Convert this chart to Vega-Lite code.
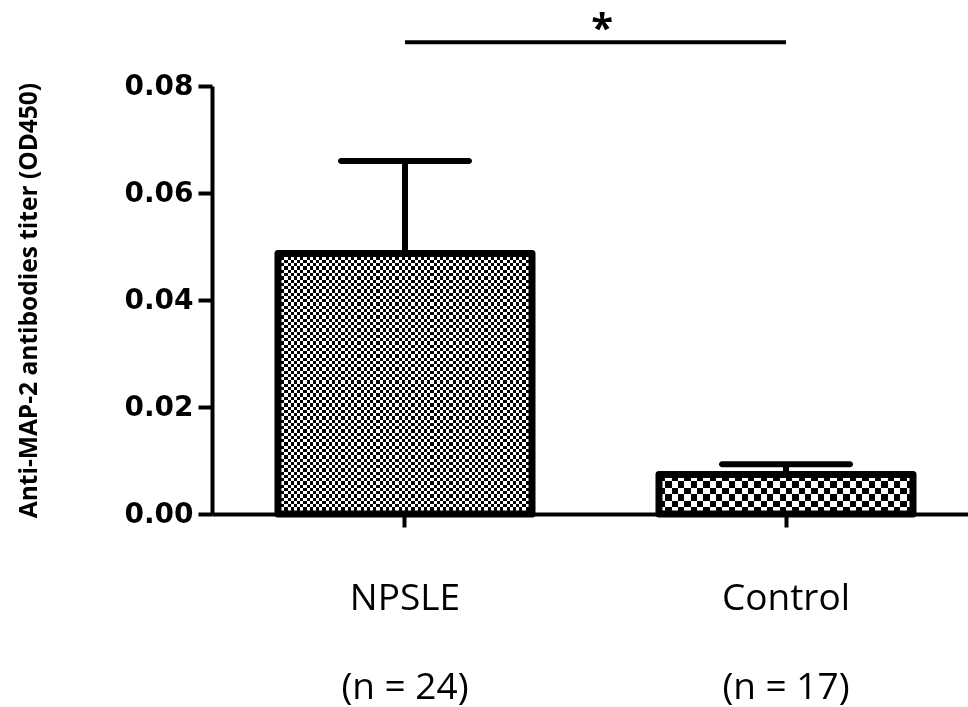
{
  "$schema": "https://vega.github.io/schema/vega-lite/v6.json",
  "autosize": {"type": "none"},
  "padding": {"left": 212, "top": 86, "right": 0, "bottom": 193},
  "width": 767,
  "height": 428,
  "background": "white",
  "config": {"view": {"stroke": null}},
  "data": {"values": [
    {"group": "NPSLE", "n": 24, "mean": 0.0487, "upper": 0.066},
    {"group": "Control", "n": 17, "mean": 0.0074, "upper": 0.0093}
  ]},
  "encoding": {
    "x": {
      "field": "group", "type": "nominal", "sort": ["NPSLE", "Control"],
      "scale": {"domain": ["NPSLE", "Control"], "paddingInner": 0.3333, "paddingOuter": 0.1732},
      "axis": {
        "title": null, "labelAngle": 0, "domainColor": "black", "domainWidth": 4,
        "tickColor": "black", "tickWidth": 4, "tickSize": 13, "labelPadding": 53,
        "labelFont": "Open Sans", "labelFontSize": 37, "labelColor": "black",
        "labelBaseline": "top", "labelLineHeight": 89,
        "labelExpr": "datum.value == 'NPSLE' ? ['NPSLE', '(n = 24)'] : ['Control', '(n = 17)']"
      }
    },
    "y": {
      "field": "mean", "type": "quantitative",
      "scale": {"domain": [0, 0.08], "nice": false},
      "axis": {
        "title": "Anti-MAP-2 antibodies titer (OD450)",
        "values": [0, 0.02, 0.04, 0.06, 0.08], "format": ".2f", "grid": false,
        "domainColor": "black", "domainWidth": 4, "tickColor": "black", "tickWidth": 4,
        "tickSize": 14, "labelPadding": 5, "labelFont": "DejaVu Sans", "labelFontWeight": "bold",
        "labelFontSize": 28, "labelColor": "black", "titleFont": "Open Sans",
        "titleFontWeight": "bold", "titleFontSize": 24.5, "titleColor": "black", "titlePadding": 82
      }
    }
  },
  "layer": [
    {
      "transform": [{"filter": "datum.group == 'NPSLE'"}],
      "mark": {"type": "bar", "fill": {"gradient": "linear", "x1": 0, "y1": 0, "x2": 1, "y2": 0, "stops": [
        {"offset":0,"color":"#000"},{"offset":0.0125,"color":"#000"},{"offset":0.0125,"color":"#fff"},{"offset":0.025,"color":"#fff"},{"offset":0.025,"color":"#000"},{"offset":0.0375,"color":"#000"},{"offset":0.0375,"color":"#fff"},{"offset":0.05,"color":"#fff"},{"offset":0.05,"color":"#000"},{"offset":0.0625,"color":"#000"},{"offset":0.0625,"color":"#fff"},{"offset":0.075,"color":"#fff"},{"offset":0.075,"color":"#000"},{"offset":0.0875,"color":"#000"},{"offset":0.0875,"color":"#fff"},{"offset":0.1,"color":"#fff"},{"offset":0.1,"color":"#000"},{"offset":0.1125,"color":"#000"},{"offset":0.1125,"color":"#fff"},{"offset":0.125,"color":"#fff"},{"offset":0.125,"color":"#000"},{"offset":0.1375,"color":"#000"},{"offset":0.1375,"color":"#fff"},{"offset":0.15,"color":"#fff"},{"offset":0.15,"color":"#000"},{"offset":0.1625,"color":"#000"},{"offset":0.1625,"color":"#fff"},{"offset":0.175,"color":"#fff"},{"offset":0.175,"color":"#000"},{"offset":0.1875,"color":"#000"},{"offset":0.1875,"color":"#fff"},{"offset":0.2,"color":"#fff"},{"offset":0.2,"color":"#000"},{"offset":0.2125,"color":"#000"},{"offset":0.2125,"color":"#fff"},{"offset":0.225,"color":"#fff"},{"offset":0.225,"color":"#000"},{"offset":0.2375,"color":"#000"},{"offset":0.2375,"color":"#fff"},{"offset":0.25,"color":"#fff"},{"offset":0.25,"color":"#000"},{"offset":0.2625,"color":"#000"},{"offset":0.2625,"color":"#fff"},{"offset":0.275,"color":"#fff"},{"offset":0.275,"color":"#000"},{"offset":0.2875,"color":"#000"},{"offset":0.2875,"color":"#fff"},{"offset":0.3,"color":"#fff"},{"offset":0.3,"color":"#000"},{"offset":0.3125,"color":"#000"},{"offset":0.3125,"color":"#fff"},{"offset":0.325,"color":"#fff"},{"offset":0.325,"color":"#000"},{"offset":0.3375,"color":"#000"},{"offset":0.3375,"color":"#fff"},{"offset":0.35,"color":"#fff"},{"offset":0.35,"color":"#000"},{"offset":0.3625,"color":"#000"},{"offset":0.3625,"color":"#fff"},{"offset":0.375,"color":"#fff"},{"offset":0.375,"color":"#000"},{"offset":0.3875,"color":"#000"},{"offset":0.3875,"color":"#fff"},{"offset":0.4,"color":"#fff"},{"offset":0.4,"color":"#000"},{"offset":0.4125,"color":"#000"},{"offset":0.4125,"color":"#fff"},{"offset":0.425,"color":"#fff"},{"offset":0.425,"color":"#000"},{"offset":0.4375,"color":"#000"},{"offset":0.4375,"color":"#fff"},{"offset":0.45,"color":"#fff"},{"offset":0.45,"color":"#000"},{"offset":0.4625,"color":"#000"},{"offset":0.4625,"color":"#fff"},{"offset":0.475,"color":"#fff"},{"offset":0.475,"color":"#000"},{"offset":0.4875,"color":"#000"},{"offset":0.4875,"color":"#fff"},{"offset":0.5,"color":"#fff"},{"offset":0.5,"color":"#000"},{"offset":0.5125,"color":"#000"},{"offset":0.5125,"color":"#fff"},{"offset":0.525,"color":"#fff"},{"offset":0.525,"color":"#000"},{"offset":0.5375,"color":"#000"},{"offset":0.5375,"color":"#fff"},{"offset":0.55,"color":"#fff"},{"offset":0.55,"color":"#000"},{"offset":0.5625,"color":"#000"},{"offset":0.5625,"color":"#fff"},{"offset":0.575,"color":"#fff"},{"offset":0.575,"color":"#000"},{"offset":0.5875,"color":"#000"},{"offset":0.5875,"color":"#fff"},{"offset":0.6,"color":"#fff"},{"offset":0.6,"color":"#000"},{"offset":0.6125,"color":"#000"},{"offset":0.6125,"color":"#fff"},{"offset":0.625,"color":"#fff"},{"offset":0.625,"color":"#000"},{"offset":0.6375,"color":"#000"},{"offset":0.6375,"color":"#fff"},{"offset":0.65,"color":"#fff"},{"offset":0.65,"color":"#000"},{"offset":0.6625,"color":"#000"},{"offset":0.6625,"color":"#fff"},{"offset":0.675,"color":"#fff"},{"offset":0.675,"color":"#000"},{"offset":0.6875,"color":"#000"},{"offset":0.6875,"color":"#fff"},{"offset":0.7,"color":"#fff"},{"offset":0.7,"color":"#000"},{"offset":0.7125,"color":"#000"},{"offset":0.7125,"color":"#fff"},{"offset":0.725,"color":"#fff"},{"offset":0.725,"color":"#000"},{"offset":0.7375,"color":"#000"},{"offset":0.7375,"color":"#fff"},{"offset":0.75,"color":"#fff"},{"offset":0.75,"color":"#000"},{"offset":0.7625,"color":"#000"},{"offset":0.7625,"color":"#fff"},{"offset":0.775,"color":"#fff"},{"offset":0.775,"color":"#000"},{"offset":0.7875,"color":"#000"},{"offset":0.7875,"color":"#fff"},{"offset":0.8,"color":"#fff"},{"offset":0.8,"color":"#000"},{"offset":0.8125,"color":"#000"},{"offset":0.8125,"color":"#fff"},{"offset":0.825,"color":"#fff"},{"offset":0.825,"color":"#000"},{"offset":0.8375,"color":"#000"},{"offset":0.8375,"color":"#fff"},{"offset":0.85,"color":"#fff"},{"offset":0.85,"color":"#000"},{"offset":0.8625,"color":"#000"},{"offset":0.8625,"color":"#fff"},{"offset":0.875,"color":"#fff"},{"offset":0.875,"color":"#000"},{"offset":0.8875,"color":"#000"},{"offset":0.8875,"color":"#fff"},{"offset":0.9,"color":"#fff"},{"offset":0.9,"color":"#000"},{"offset":0.9125,"color":"#000"},{"offset":0.9125,"color":"#fff"},{"offset":0.925,"color":"#fff"},{"offset":0.925,"color":"#000"},{"offset":0.9375,"color":"#000"},{"offset":0.9375,"color":"#fff"},{"offset":0.95,"color":"#fff"},{"offset":0.95,"color":"#000"},{"offset":0.9625,"color":"#000"},{"offset":0.9625,"color":"#fff"},{"offset":0.975,"color":"#fff"},{"offset":0.975,"color":"#000"},{"offset":0.9875,"color":"#000"},{"offset":0.9875,"color":"#fff"},{"offset":1,"color":"#fff"}
      ]}}
    },
    {
      "transform": [{"filter": "datum.group == 'NPSLE'"}],
      "mark": {"type": "bar", "blend": "difference", "fill": {"gradient": "linear", "x1": 0, "y1": 0, "x2": 0, "y2": 1, "stops": [
        {"offset":0,"color":"#000"},{"offset":0.0125,"color":"#000"},{"offset":0.0125,"color":"#fff"},{"offset":0.025,"color":"#fff"},{"offset":0.025,"color":"#000"},{"offset":0.0375,"color":"#000"},{"offset":0.0375,"color":"#fff"},{"offset":0.05,"color":"#fff"},{"offset":0.05,"color":"#000"},{"offset":0.0625,"color":"#000"},{"offset":0.0625,"color":"#fff"},{"offset":0.075,"color":"#fff"},{"offset":0.075,"color":"#000"},{"offset":0.0875,"color":"#000"},{"offset":0.0875,"color":"#fff"},{"offset":0.1,"color":"#fff"},{"offset":0.1,"color":"#000"},{"offset":0.1125,"color":"#000"},{"offset":0.1125,"color":"#fff"},{"offset":0.125,"color":"#fff"},{"offset":0.125,"color":"#000"},{"offset":0.1375,"color":"#000"},{"offset":0.1375,"color":"#fff"},{"offset":0.15,"color":"#fff"},{"offset":0.15,"color":"#000"},{"offset":0.1625,"color":"#000"},{"offset":0.1625,"color":"#fff"},{"offset":0.175,"color":"#fff"},{"offset":0.175,"color":"#000"},{"offset":0.1875,"color":"#000"},{"offset":0.1875,"color":"#fff"},{"offset":0.2,"color":"#fff"},{"offset":0.2,"color":"#000"},{"offset":0.2125,"color":"#000"},{"offset":0.2125,"color":"#fff"},{"offset":0.225,"color":"#fff"},{"offset":0.225,"color":"#000"},{"offset":0.2375,"color":"#000"},{"offset":0.2375,"color":"#fff"},{"offset":0.25,"color":"#fff"},{"offset":0.25,"color":"#000"},{"offset":0.2625,"color":"#000"},{"offset":0.2625,"color":"#fff"},{"offset":0.275,"color":"#fff"},{"offset":0.275,"color":"#000"},{"offset":0.2875,"color":"#000"},{"offset":0.2875,"color":"#fff"},{"offset":0.3,"color":"#fff"},{"offset":0.3,"color":"#000"},{"offset":0.3125,"color":"#000"},{"offset":0.3125,"color":"#fff"},{"offset":0.325,"color":"#fff"},{"offset":0.325,"color":"#000"},{"offset":0.3375,"color":"#000"},{"offset":0.3375,"color":"#fff"},{"offset":0.35,"color":"#fff"},{"offset":0.35,"color":"#000"},{"offset":0.3625,"color":"#000"},{"offset":0.3625,"color":"#fff"},{"offset":0.375,"color":"#fff"},{"offset":0.375,"color":"#000"},{"offset":0.3875,"color":"#000"},{"offset":0.3875,"color":"#fff"},{"offset":0.4,"color":"#fff"},{"offset":0.4,"color":"#000"},{"offset":0.4125,"color":"#000"},{"offset":0.4125,"color":"#fff"},{"offset":0.425,"color":"#fff"},{"offset":0.425,"color":"#000"},{"offset":0.4375,"color":"#000"},{"offset":0.4375,"color":"#fff"},{"offset":0.45,"color":"#fff"},{"offset":0.45,"color":"#000"},{"offset":0.4625,"color":"#000"},{"offset":0.4625,"color":"#fff"},{"offset":0.475,"color":"#fff"},{"offset":0.475,"color":"#000"},{"offset":0.4875,"color":"#000"},{"offset":0.4875,"color":"#fff"},{"offset":0.5,"color":"#fff"},{"offset":0.5,"color":"#000"},{"offset":0.5125,"color":"#000"},{"offset":0.5125,"color":"#fff"},{"offset":0.525,"color":"#fff"},{"offset":0.525,"color":"#000"},{"offset":0.5375,"color":"#000"},{"offset":0.5375,"color":"#fff"},{"offset":0.55,"color":"#fff"},{"offset":0.55,"color":"#000"},{"offset":0.5625,"color":"#000"},{"offset":0.5625,"color":"#fff"},{"offset":0.575,"color":"#fff"},{"offset":0.575,"color":"#000"},{"offset":0.5875,"color":"#000"},{"offset":0.5875,"color":"#fff"},{"offset":0.6,"color":"#fff"},{"offset":0.6,"color":"#000"},{"offset":0.6125,"color":"#000"},{"offset":0.6125,"color":"#fff"},{"offset":0.625,"color":"#fff"},{"offset":0.625,"color":"#000"},{"offset":0.6375,"color":"#000"},{"offset":0.6375,"color":"#fff"},{"offset":0.65,"color":"#fff"},{"offset":0.65,"color":"#000"},{"offset":0.6625,"color":"#000"},{"offset":0.6625,"color":"#fff"},{"offset":0.675,"color":"#fff"},{"offset":0.675,"color":"#000"},{"offset":0.6875,"color":"#000"},{"offset":0.6875,"color":"#fff"},{"offset":0.7,"color":"#fff"},{"offset":0.7,"color":"#000"},{"offset":0.7125,"color":"#000"},{"offset":0.7125,"color":"#fff"},{"offset":0.725,"color":"#fff"},{"offset":0.725,"color":"#000"},{"offset":0.7375,"color":"#000"},{"offset":0.7375,"color":"#fff"},{"offset":0.75,"color":"#fff"},{"offset":0.75,"color":"#000"},{"offset":0.7625,"color":"#000"},{"offset":0.7625,"color":"#fff"},{"offset":0.775,"color":"#fff"},{"offset":0.775,"color":"#000"},{"offset":0.7875,"color":"#000"},{"offset":0.7875,"color":"#fff"},{"offset":0.8,"color":"#fff"},{"offset":0.8,"color":"#000"},{"offset":0.8125,"color":"#000"},{"offset":0.8125,"color":"#fff"},{"offset":0.825,"color":"#fff"},{"offset":0.825,"color":"#000"},{"offset":0.8375,"color":"#000"},{"offset":0.8375,"color":"#fff"},{"offset":0.85,"color":"#fff"},{"offset":0.85,"color":"#000"},{"offset":0.8625,"color":"#000"},{"offset":0.8625,"color":"#fff"},{"offset":0.875,"color":"#fff"},{"offset":0.875,"color":"#000"},{"offset":0.8875,"color":"#000"},{"offset":0.8875,"color":"#fff"},{"offset":0.9,"color":"#fff"},{"offset":0.9,"color":"#000"},{"offset":0.9125,"color":"#000"},{"offset":0.9125,"color":"#fff"},{"offset":0.925,"color":"#fff"},{"offset":0.925,"color":"#000"},{"offset":0.9375,"color":"#000"},{"offset":0.9375,"color":"#fff"},{"offset":0.95,"color":"#fff"},{"offset":0.95,"color":"#000"},{"offset":0.9625,"color":"#000"},{"offset":0.9625,"color":"#fff"},{"offset":0.975,"color":"#fff"},{"offset":0.975,"color":"#000"},{"offset":0.9875,"color":"#000"},{"offset":0.9875,"color":"#fff"},{"offset":1,"color":"#fff"}
      ]}}
    },
    {
      "transform": [{"filter": "datum.group == 'Control'"}],
      "mark": {"type": "bar", "fill": {"gradient": "linear", "x1": 0, "y1": 0, "x2": 1, "y2": 0, "stops": [
        {"offset":0,"color":"#000"},{"offset":0.025,"color":"#000"},{"offset":0.025,"color":"#fff"},{"offset":0.05,"color":"#fff"},{"offset":0.05,"color":"#000"},{"offset":0.075,"color":"#000"},{"offset":0.075,"color":"#fff"},{"offset":0.1,"color":"#fff"},{"offset":0.1,"color":"#000"},{"offset":0.125,"color":"#000"},{"offset":0.125,"color":"#fff"},{"offset":0.15,"color":"#fff"},{"offset":0.15,"color":"#000"},{"offset":0.175,"color":"#000"},{"offset":0.175,"color":"#fff"},{"offset":0.2,"color":"#fff"},{"offset":0.2,"color":"#000"},{"offset":0.225,"color":"#000"},{"offset":0.225,"color":"#fff"},{"offset":0.25,"color":"#fff"},{"offset":0.25,"color":"#000"},{"offset":0.275,"color":"#000"},{"offset":0.275,"color":"#fff"},{"offset":0.3,"color":"#fff"},{"offset":0.3,"color":"#000"},{"offset":0.325,"color":"#000"},{"offset":0.325,"color":"#fff"},{"offset":0.35,"color":"#fff"},{"offset":0.35,"color":"#000"},{"offset":0.375,"color":"#000"},{"offset":0.375,"color":"#fff"},{"offset":0.4,"color":"#fff"},{"offset":0.4,"color":"#000"},{"offset":0.425,"color":"#000"},{"offset":0.425,"color":"#fff"},{"offset":0.45,"color":"#fff"},{"offset":0.45,"color":"#000"},{"offset":0.475,"color":"#000"},{"offset":0.475,"color":"#fff"},{"offset":0.5,"color":"#fff"},{"offset":0.5,"color":"#000"},{"offset":0.525,"color":"#000"},{"offset":0.525,"color":"#fff"},{"offset":0.55,"color":"#fff"},{"offset":0.55,"color":"#000"},{"offset":0.575,"color":"#000"},{"offset":0.575,"color":"#fff"},{"offset":0.6,"color":"#fff"},{"offset":0.6,"color":"#000"},{"offset":0.625,"color":"#000"},{"offset":0.625,"color":"#fff"},{"offset":0.65,"color":"#fff"},{"offset":0.65,"color":"#000"},{"offset":0.675,"color":"#000"},{"offset":0.675,"color":"#fff"},{"offset":0.7,"color":"#fff"},{"offset":0.7,"color":"#000"},{"offset":0.725,"color":"#000"},{"offset":0.725,"color":"#fff"},{"offset":0.75,"color":"#fff"},{"offset":0.75,"color":"#000"},{"offset":0.775,"color":"#000"},{"offset":0.775,"color":"#fff"},{"offset":0.8,"color":"#fff"},{"offset":0.8,"color":"#000"},{"offset":0.825,"color":"#000"},{"offset":0.825,"color":"#fff"},{"offset":0.85,"color":"#fff"},{"offset":0.85,"color":"#000"},{"offset":0.875,"color":"#000"},{"offset":0.875,"color":"#fff"},{"offset":0.9,"color":"#fff"},{"offset":0.9,"color":"#000"},{"offset":0.925,"color":"#000"},{"offset":0.925,"color":"#fff"},{"offset":0.95,"color":"#fff"},{"offset":0.95,"color":"#000"},{"offset":0.975,"color":"#000"},{"offset":0.975,"color":"#fff"},{"offset":1,"color":"#fff"}
      ]}}
    },
    {
      "transform": [{"filter": "datum.group == 'Control'"}],
      "mark": {"type": "bar", "blend": "difference", "fill": {"gradient": "linear", "x1": 0, "y1": 0, "x2": 0, "y2": 1, "stops": [
        {"offset":0,"color":"#000"},{"offset":0.16667,"color":"#000"},{"offset":0.16667,"color":"#fff"},{"offset":0.33333,"color":"#fff"},{"offset":0.33333,"color":"#000"},{"offset":0.5,"color":"#000"},{"offset":0.5,"color":"#fff"},{"offset":0.66667,"color":"#fff"},{"offset":0.66667,"color":"#000"},{"offset":0.83333,"color":"#000"},{"offset":0.83333,"color":"#fff"},{"offset":1,"color":"#fff"}
      ]}}
    },
    {
      "mark": {"type": "bar", "fill": "white", "fillOpacity": 0, "stroke": "black", "strokeWidth": 7, "strokeJoin": "round"}
    },
    {
      "mark": {"type": "rule", "color": "black", "strokeWidth": 6},
      "encoding": {
        "y2": {"field": "upper"}
      }
    },
    {
      "mark": {"type": "tick", "color": "black", "opacity": 1, "size": 134, "thickness": 6, "cornerRadius": 3, "orient": "horizontal"},
      "encoding": {"y": {"field": "upper", "type": "quantitative", "title": "Anti-MAP-2 antibodies titer (OD450)"}}
    },
    {
      "data": {"values": [{"group": "NPSLE", "group2": "Control", "mean": 0.0882, "label": "*"}]},
      "layer": [
        {
          "mark": {"type": "rule", "color": "black", "strokeWidth": 4},
          "encoding": {
            "x2": {"field": "group2"}
          }
        },
        {
          "mark": {"type": "text", "font": "Open Sans", "fontSize": 40, "fontWeight": "bold", "color": "black", "align": "center", "baseline": "alphabetic"},
          "encoding": {
            "x": {"field": "group", "type": "nominal", "bandPosition": 1.276},
            "text": {"field": "label"}
          }
        }
      ]
    }
  ]
}
